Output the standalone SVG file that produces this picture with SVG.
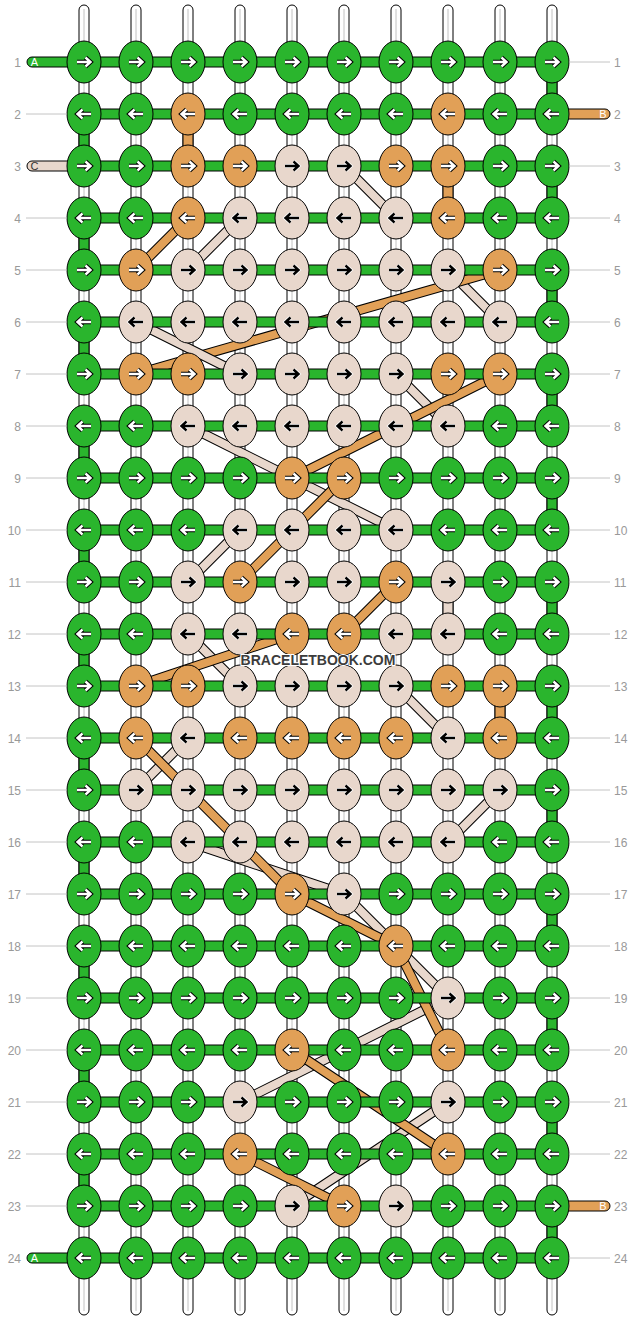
<svg xmlns="http://www.w3.org/2000/svg" xmlns:xlink="http://www.w3.org/1999/xlink" width="636" height="1320" viewBox="0 0 636 1320">
<style>
.vs{fill:#fff;stroke:#000;stroke-width:1}
.vc{stroke:#c2c2c2;stroke-width:1}
.hb{stroke:#000;stroke-width:1}
.g{fill:#2ab52d}.o{fill:#e1a057}.l{fill:#e8d7cc}
.kn{stroke:#000;stroke-width:1}
.dk{stroke:#000;stroke-width:10;fill:none}
.dO{stroke:#e1a057;stroke-width:8;fill:none}
.dL{stroke:#e8d7cc;stroke-width:8;fill:none}
.ap{fill:none;stroke-linecap:butt;stroke-linejoin:miter}
.num{font-family:"Liberation Sans",Arial,sans-serif;font-size:12px;fill:#999}
.gl{stroke:#c4c4c4;stroke-width:1}
.lab{font-family:"Liberation Sans",Arial,sans-serif;font-size:11px;text-anchor:middle}
.wm{font-family:"Liberation Sans",Arial,sans-serif;font-size:14px;font-weight:bold;fill:#3c3c3c;stroke:#fff;stroke-width:2;paint-order:stroke;text-anchor:middle}
</style>
<defs>
<path id="aR" class="ap" d="M-7,0H6M1.5,-4.5L6.5,0L1.5,4.5"/>
<g id="wR"><use href="#aR" stroke="#000" stroke-width="4.4"/><use href="#aR" stroke="#fff" stroke-width="2.4"/></g>
<g id="bR"><use href="#aR" stroke="#fff" stroke-width="4"/><use href="#aR" stroke="#000" stroke-width="2.4"/></g>
<g id="wL" transform="scale(-1,1)"><use href="#wR"/></g>
<g id="bL" transform="scale(-1,1)"><use href="#bR"/></g>
<g id="GR"><ellipse class="kn g" rx="17" ry="21"/><use href="#wR"/></g>
<g id="GL"><ellipse class="kn g" rx="17" ry="21"/><use href="#wL"/></g>
<g id="OR"><ellipse class="kn o" rx="17" ry="21"/><use href="#wR"/></g>
<g id="OL"><ellipse class="kn o" rx="17" ry="21"/><use href="#wL"/></g>
<g id="LR"><ellipse class="kn l" rx="17" ry="21"/><use href="#bR"/></g>
<g id="LL"><ellipse class="kn l" rx="17" ry="21"/><use href="#bL"/></g>
</defs>
<rect width="636" height="1320" fill="#fff"/>

<g id="warp-strings">
<rect class="vs" x="79" y="5" width="10" height="1310" rx="5"/><line class="vc" x1="84" y1="9" x2="84" y2="1311"/>
<rect class="vs" x="131" y="5" width="10" height="1310" rx="5"/><line class="vc" x1="136" y1="9" x2="136" y2="1311"/>
<rect class="vs" x="183" y="5" width="10" height="1310" rx="5"/><line class="vc" x1="188" y1="9" x2="188" y2="1311"/>
<rect class="vs" x="235" y="5" width="10" height="1310" rx="5"/><line class="vc" x1="240" y1="9" x2="240" y2="1311"/>
<rect class="vs" x="287" y="5" width="10" height="1310" rx="5"/><line class="vc" x1="292" y1="9" x2="292" y2="1311"/>
<rect class="vs" x="339" y="5" width="10" height="1310" rx="5"/><line class="vc" x1="344" y1="9" x2="344" y2="1311"/>
<rect class="vs" x="391" y="5" width="10" height="1310" rx="5"/><line class="vc" x1="396" y1="9" x2="396" y2="1311"/>
<rect class="vs" x="443" y="5" width="10" height="1310" rx="5"/><line class="vc" x1="448" y1="9" x2="448" y2="1311"/>
<rect class="vs" x="495" y="5" width="10" height="1310" rx="5"/><line class="vc" x1="500" y1="9" x2="500" y2="1311"/>
<rect class="vs" x="547" y="5" width="10" height="1310" rx="5"/><line class="vc" x1="552" y1="9" x2="552" y2="1311"/>
</g>

<g id="connectors">
<g id="diag-light">
<path class="dk" d="M240,218L188,270M344,166L396,218M448,270L500,322M396,374L448,426M188,426L396,530M240,530L188,582M188,634L240,686M396,686L448,738M188,738L136,790M500,790L448,842M188,842L344,894M344,894L448,998M448,998L240,1102M448,1102L292,1206"/>
<path class="dL" d="M240,218L188,270M344,166L396,218M448,270L500,322M396,374L448,426M188,426L396,530M240,530L188,582M188,634L240,686M396,686L448,738M188,738L136,790M500,790L448,842M188,842L344,894M344,894L448,998M448,998L240,1102M448,1102L292,1206"/>
</g>
<g id="diag-orange">
<path class="dk" d="M188,218L136,270M500,270L136,374M500,374L292,478M344,478L240,582M396,582L344,634M292,634L136,686M136,738L292,894M292,894L396,946M396,946L448,1050M292,1050L448,1154M240,1154L344,1206"/>
<path class="dO" d="M188,218L136,270M500,270L136,374M500,374L292,478M344,478L240,582M396,582L344,634M292,634L136,686M136,738L292,894M292,894L396,946M396,946L448,1050M292,1050L448,1154M240,1154L344,1206"/>
</g>
<g id="diag-light-top">
<path class="dk" d="M136,322L240,374"/>
<path class="dL" d="M136,322L240,374"/>
</g>
<g id="vertical-links">
<rect class="hb g" x="547" y="77" width="10" height="22"/>
<rect class="hb g" x="79" y="129" width="10" height="22"/>
<rect class="hb g" x="547" y="181" width="10" height="22"/>
<rect class="hb g" x="79" y="233" width="10" height="22"/>
<rect class="hb g" x="547" y="285" width="10" height="22"/>
<rect class="hb g" x="79" y="337" width="10" height="22"/>
<rect class="hb g" x="547" y="389" width="10" height="22"/>
<rect class="hb g" x="79" y="441" width="10" height="22"/>
<rect class="hb g" x="547" y="493" width="10" height="22"/>
<rect class="hb g" x="79" y="545" width="10" height="22"/>
<rect class="hb g" x="547" y="597" width="10" height="22"/>
<rect class="hb g" x="79" y="649" width="10" height="22"/>
<rect class="hb g" x="547" y="701" width="10" height="22"/>
<rect class="hb g" x="79" y="753" width="10" height="22"/>
<rect class="hb g" x="547" y="805" width="10" height="22"/>
<rect class="hb g" x="79" y="857" width="10" height="22"/>
<rect class="hb g" x="547" y="909" width="10" height="22"/>
<rect class="hb g" x="79" y="961" width="10" height="22"/>
<rect class="hb g" x="547" y="1013" width="10" height="22"/>
<rect class="hb g" x="79" y="1065" width="10" height="22"/>
<rect class="hb g" x="547" y="1117" width="10" height="22"/>
<rect class="hb g" x="79" y="1169" width="10" height="22"/>
<rect class="hb g" x="547" y="1221" width="10" height="22"/>
<rect class="hb o" x="183" y="129" width="10" height="22"/>
<rect class="hb o" x="443" y="181" width="10" height="22"/>
<rect class="hb l" x="443" y="597" width="10" height="22"/>
<rect class="hb o" x="495" y="701" width="10" height="22"/>
</g>
<g id="horizontal-links">
<rect class="hb g" x="27" y="57" width="60" height="10" rx="5"/>
<rect class="hb o" x="549" y="109" width="61" height="10" rx="5"/>
<rect class="hb l" x="27" y="161" width="60" height="10" rx="5"/>
<rect class="hb o" x="549" y="1201" width="61" height="10" rx="5"/>
<rect class="hb g" x="27" y="1253" width="60" height="10" rx="5"/>
<rect class="hb g" x="84" y="57" width="468" height="10"/>
<rect class="hb g" x="84" y="109" width="468" height="10"/>
<rect class="hb g" x="84" y="161" width="468" height="10"/>
<rect class="hb g" x="84" y="213" width="468" height="10"/>
<rect class="hb g" x="84" y="265" width="468" height="10"/>
<rect class="hb g" x="84" y="317" width="468" height="10"/>
<rect class="hb g" x="84" y="369" width="468" height="10"/>
<rect class="hb g" x="84" y="421" width="468" height="10"/>
<rect class="hb g" x="84" y="473" width="468" height="10"/>
<rect class="hb g" x="84" y="525" width="468" height="10"/>
<rect class="hb g" x="84" y="577" width="468" height="10"/>
<rect class="hb g" x="84" y="629" width="468" height="10"/>
<rect class="hb g" x="84" y="681" width="468" height="10"/>
<rect class="hb g" x="84" y="733" width="468" height="10"/>
<rect class="hb g" x="84" y="785" width="468" height="10"/>
<rect class="hb g" x="84" y="837" width="468" height="10"/>
<rect class="hb g" x="84" y="889" width="468" height="10"/>
<rect class="hb g" x="84" y="941" width="468" height="10"/>
<rect class="hb g" x="84" y="993" width="468" height="10"/>
<rect class="hb g" x="84" y="1045" width="468" height="10"/>
<rect class="hb g" x="84" y="1097" width="468" height="10"/>
<rect class="hb g" x="84" y="1149" width="468" height="10"/>
<rect class="hb g" x="84" y="1201" width="468" height="10"/>
<rect class="hb g" x="84" y="1253" width="468" height="10"/>
</g>
</g>

<g id="knots">
<g id="k1-1"><use href="#GR" x="84" y="62"/></g><g id="k1-2"><use href="#GR" x="136" y="62"/></g><g id="k1-3"><use href="#GR" x="188" y="62"/></g><g id="k1-4"><use href="#GR" x="240" y="62"/></g><g id="k1-5"><use href="#GR" x="292" y="62"/></g><g id="k1-6"><use href="#GR" x="344" y="62"/></g><g id="k1-7"><use href="#GR" x="396" y="62"/></g><g id="k1-8"><use href="#GR" x="448" y="62"/></g><g id="k1-9"><use href="#GR" x="500" y="62"/></g><g id="k1-10"><use href="#GR" x="552" y="62"/></g>
<g id="k2-1"><use href="#GL" x="84" y="114"/></g><g id="k2-2"><use href="#GL" x="136" y="114"/></g><g id="k2-3"><use href="#OL" x="188" y="114"/></g><g id="k2-4"><use href="#GL" x="240" y="114"/></g><g id="k2-5"><use href="#GL" x="292" y="114"/></g><g id="k2-6"><use href="#GL" x="344" y="114"/></g><g id="k2-7"><use href="#GL" x="396" y="114"/></g><g id="k2-8"><use href="#OL" x="448" y="114"/></g><g id="k2-9"><use href="#GL" x="500" y="114"/></g><g id="k2-10"><use href="#GL" x="552" y="114"/></g>
<g id="k3-1"><use href="#GR" x="84" y="166"/></g><g id="k3-2"><use href="#GR" x="136" y="166"/></g><g id="k3-3"><use href="#OR" x="188" y="166"/></g><g id="k3-4"><use href="#OR" x="240" y="166"/></g><g id="k3-5"><use href="#LR" x="292" y="166"/></g><g id="k3-6"><use href="#LR" x="344" y="166"/></g><g id="k3-7"><use href="#OR" x="396" y="166"/></g><g id="k3-8"><use href="#OR" x="448" y="166"/></g><g id="k3-9"><use href="#GR" x="500" y="166"/></g><g id="k3-10"><use href="#GR" x="552" y="166"/></g>
<g id="k4-1"><use href="#GL" x="84" y="218"/></g><g id="k4-2"><use href="#GL" x="136" y="218"/></g><g id="k4-3"><use href="#OL" x="188" y="218"/></g><g id="k4-4"><use href="#LL" x="240" y="218"/></g><g id="k4-5"><use href="#LL" x="292" y="218"/></g><g id="k4-6"><use href="#LL" x="344" y="218"/></g><g id="k4-7"><use href="#LL" x="396" y="218"/></g><g id="k4-8"><use href="#OL" x="448" y="218"/></g><g id="k4-9"><use href="#GL" x="500" y="218"/></g><g id="k4-10"><use href="#GL" x="552" y="218"/></g>
<g id="k5-1"><use href="#GR" x="84" y="270"/></g><g id="k5-2"><use href="#OR" x="136" y="270"/></g><g id="k5-3"><use href="#LR" x="188" y="270"/></g><g id="k5-4"><use href="#LR" x="240" y="270"/></g><g id="k5-5"><use href="#LR" x="292" y="270"/></g><g id="k5-6"><use href="#LR" x="344" y="270"/></g><g id="k5-7"><use href="#LR" x="396" y="270"/></g><g id="k5-8"><use href="#LR" x="448" y="270"/></g><g id="k5-9"><use href="#OR" x="500" y="270"/></g><g id="k5-10"><use href="#GR" x="552" y="270"/></g>
<g id="k6-1"><use href="#GL" x="84" y="322"/></g><g id="k6-2"><use href="#LL" x="136" y="322"/></g><g id="k6-3"><use href="#LL" x="188" y="322"/></g><g id="k6-4"><use href="#LL" x="240" y="322"/></g><g id="k6-5"><use href="#LL" x="292" y="322"/></g><g id="k6-6"><use href="#LL" x="344" y="322"/></g><g id="k6-7"><use href="#LL" x="396" y="322"/></g><g id="k6-8"><use href="#LL" x="448" y="322"/></g><g id="k6-9"><use href="#LL" x="500" y="322"/></g><g id="k6-10"><use href="#GL" x="552" y="322"/></g>
<g id="k7-1"><use href="#GR" x="84" y="374"/></g><g id="k7-2"><use href="#OR" x="136" y="374"/></g><g id="k7-3"><use href="#OR" x="188" y="374"/></g><g id="k7-4"><use href="#LR" x="240" y="374"/></g><g id="k7-5"><use href="#LR" x="292" y="374"/></g><g id="k7-6"><use href="#LR" x="344" y="374"/></g><g id="k7-7"><use href="#LR" x="396" y="374"/></g><g id="k7-8"><use href="#OR" x="448" y="374"/></g><g id="k7-9"><use href="#OR" x="500" y="374"/></g><g id="k7-10"><use href="#GR" x="552" y="374"/></g>
<g id="k8-1"><use href="#GL" x="84" y="426"/></g><g id="k8-2"><use href="#GL" x="136" y="426"/></g><g id="k8-3"><use href="#LL" x="188" y="426"/></g><g id="k8-4"><use href="#LL" x="240" y="426"/></g><g id="k8-5"><use href="#LL" x="292" y="426"/></g><g id="k8-6"><use href="#LL" x="344" y="426"/></g><g id="k8-7"><use href="#LL" x="396" y="426"/></g><g id="k8-8"><use href="#LL" x="448" y="426"/></g><g id="k8-9"><use href="#GL" x="500" y="426"/></g><g id="k8-10"><use href="#GL" x="552" y="426"/></g>
<g id="k9-1"><use href="#GR" x="84" y="478"/></g><g id="k9-2"><use href="#GR" x="136" y="478"/></g><g id="k9-3"><use href="#GR" x="188" y="478"/></g><g id="k9-4"><use href="#GR" x="240" y="478"/></g><g id="k9-5"><use href="#OR" x="292" y="478"/></g><g id="k9-6"><use href="#OR" x="344" y="478"/></g><g id="k9-7"><use href="#GR" x="396" y="478"/></g><g id="k9-8"><use href="#GR" x="448" y="478"/></g><g id="k9-9"><use href="#GR" x="500" y="478"/></g><g id="k9-10"><use href="#GR" x="552" y="478"/></g>
<g id="k10-1"><use href="#GL" x="84" y="530"/></g><g id="k10-2"><use href="#GL" x="136" y="530"/></g><g id="k10-3"><use href="#GL" x="188" y="530"/></g><g id="k10-4"><use href="#LL" x="240" y="530"/></g><g id="k10-5"><use href="#LL" x="292" y="530"/></g><g id="k10-6"><use href="#LL" x="344" y="530"/></g><g id="k10-7"><use href="#LL" x="396" y="530"/></g><g id="k10-8"><use href="#GL" x="448" y="530"/></g><g id="k10-9"><use href="#GL" x="500" y="530"/></g><g id="k10-10"><use href="#GL" x="552" y="530"/></g>
<g id="k11-1"><use href="#GR" x="84" y="582"/></g><g id="k11-2"><use href="#GR" x="136" y="582"/></g><g id="k11-3"><use href="#LR" x="188" y="582"/></g><g id="k11-4"><use href="#OR" x="240" y="582"/></g><g id="k11-5"><use href="#LR" x="292" y="582"/></g><g id="k11-6"><use href="#LR" x="344" y="582"/></g><g id="k11-7"><use href="#OR" x="396" y="582"/></g><g id="k11-8"><use href="#LR" x="448" y="582"/></g><g id="k11-9"><use href="#GR" x="500" y="582"/></g><g id="k11-10"><use href="#GR" x="552" y="582"/></g>
<g id="k12-1"><use href="#GL" x="84" y="634"/></g><g id="k12-2"><use href="#GL" x="136" y="634"/></g><g id="k12-3"><use href="#LL" x="188" y="634"/></g><g id="k12-4"><use href="#LL" x="240" y="634"/></g><g id="k12-5"><use href="#OL" x="292" y="634"/></g><g id="k12-6"><use href="#OL" x="344" y="634"/></g><g id="k12-7"><use href="#LL" x="396" y="634"/></g><g id="k12-8"><use href="#LL" x="448" y="634"/></g><g id="k12-9"><use href="#GL" x="500" y="634"/></g><g id="k12-10"><use href="#GL" x="552" y="634"/></g>
<g id="k13-1"><use href="#GR" x="84" y="686"/></g><g id="k13-2"><use href="#OR" x="136" y="686"/></g><g id="k13-3"><use href="#OR" x="188" y="686"/></g><g id="k13-4"><use href="#LR" x="240" y="686"/></g><g id="k13-5"><use href="#LR" x="292" y="686"/></g><g id="k13-6"><use href="#LR" x="344" y="686"/></g><g id="k13-7"><use href="#LR" x="396" y="686"/></g><g id="k13-8"><use href="#OR" x="448" y="686"/></g><g id="k13-9"><use href="#OR" x="500" y="686"/></g><g id="k13-10"><use href="#GR" x="552" y="686"/></g>
<g id="k14-1"><use href="#GL" x="84" y="738"/></g><g id="k14-2"><use href="#OL" x="136" y="738"/></g><g id="k14-3"><use href="#LL" x="188" y="738"/></g><g id="k14-4"><use href="#OL" x="240" y="738"/></g><g id="k14-5"><use href="#OL" x="292" y="738"/></g><g id="k14-6"><use href="#OL" x="344" y="738"/></g><g id="k14-7"><use href="#OL" x="396" y="738"/></g><g id="k14-8"><use href="#LL" x="448" y="738"/></g><g id="k14-9"><use href="#OL" x="500" y="738"/></g><g id="k14-10"><use href="#GL" x="552" y="738"/></g>
<g id="k15-1"><use href="#GR" x="84" y="790"/></g><g id="k15-2"><use href="#LR" x="136" y="790"/></g><g id="k15-3"><use href="#LR" x="188" y="790"/></g><g id="k15-4"><use href="#LR" x="240" y="790"/></g><g id="k15-5"><use href="#LR" x="292" y="790"/></g><g id="k15-6"><use href="#LR" x="344" y="790"/></g><g id="k15-7"><use href="#LR" x="396" y="790"/></g><g id="k15-8"><use href="#LR" x="448" y="790"/></g><g id="k15-9"><use href="#LR" x="500" y="790"/></g><g id="k15-10"><use href="#GR" x="552" y="790"/></g>
<g id="k16-1"><use href="#GL" x="84" y="842"/></g><g id="k16-2"><use href="#GL" x="136" y="842"/></g><g id="k16-3"><use href="#LL" x="188" y="842"/></g><g id="k16-4"><use href="#LL" x="240" y="842"/></g><g id="k16-5"><use href="#LL" x="292" y="842"/></g><g id="k16-6"><use href="#LL" x="344" y="842"/></g><g id="k16-7"><use href="#LL" x="396" y="842"/></g><g id="k16-8"><use href="#LL" x="448" y="842"/></g><g id="k16-9"><use href="#GL" x="500" y="842"/></g><g id="k16-10"><use href="#GL" x="552" y="842"/></g>
<g id="k17-1"><use href="#GR" x="84" y="894"/></g><g id="k17-2"><use href="#GR" x="136" y="894"/></g><g id="k17-3"><use href="#GR" x="188" y="894"/></g><g id="k17-4"><use href="#GR" x="240" y="894"/></g><g id="k17-5"><use href="#OR" x="292" y="894"/></g><g id="k17-6"><use href="#LR" x="344" y="894"/></g><g id="k17-7"><use href="#GR" x="396" y="894"/></g><g id="k17-8"><use href="#GR" x="448" y="894"/></g><g id="k17-9"><use href="#GR" x="500" y="894"/></g><g id="k17-10"><use href="#GR" x="552" y="894"/></g>
<g id="k18-1"><use href="#GL" x="84" y="946"/></g><g id="k18-2"><use href="#GL" x="136" y="946"/></g><g id="k18-3"><use href="#GL" x="188" y="946"/></g><g id="k18-4"><use href="#GL" x="240" y="946"/></g><g id="k18-5"><use href="#GL" x="292" y="946"/></g><g id="k18-6"><use href="#GL" x="344" y="946"/></g><g id="k18-7"><use href="#OL" x="396" y="946"/></g><g id="k18-8"><use href="#GL" x="448" y="946"/></g><g id="k18-9"><use href="#GL" x="500" y="946"/></g><g id="k18-10"><use href="#GL" x="552" y="946"/></g>
<g id="k19-1"><use href="#GR" x="84" y="998"/></g><g id="k19-2"><use href="#GR" x="136" y="998"/></g><g id="k19-3"><use href="#GR" x="188" y="998"/></g><g id="k19-4"><use href="#GR" x="240" y="998"/></g><g id="k19-5"><use href="#GR" x="292" y="998"/></g><g id="k19-6"><use href="#GR" x="344" y="998"/></g><g id="k19-7"><use href="#GR" x="396" y="998"/></g><g id="k19-8"><use href="#LR" x="448" y="998"/></g><g id="k19-9"><use href="#GR" x="500" y="998"/></g><g id="k19-10"><use href="#GR" x="552" y="998"/></g>
<g id="k20-1"><use href="#GL" x="84" y="1050"/></g><g id="k20-2"><use href="#GL" x="136" y="1050"/></g><g id="k20-3"><use href="#GL" x="188" y="1050"/></g><g id="k20-4"><use href="#GL" x="240" y="1050"/></g><g id="k20-5"><use href="#OL" x="292" y="1050"/></g><g id="k20-6"><use href="#GL" x="344" y="1050"/></g><g id="k20-7"><use href="#GL" x="396" y="1050"/></g><g id="k20-8"><use href="#OL" x="448" y="1050"/></g><g id="k20-9"><use href="#GL" x="500" y="1050"/></g><g id="k20-10"><use href="#GL" x="552" y="1050"/></g>
<g id="k21-1"><use href="#GR" x="84" y="1102"/></g><g id="k21-2"><use href="#GR" x="136" y="1102"/></g><g id="k21-3"><use href="#GR" x="188" y="1102"/></g><g id="k21-4"><use href="#LR" x="240" y="1102"/></g><g id="k21-5"><use href="#GR" x="292" y="1102"/></g><g id="k21-6"><use href="#GR" x="344" y="1102"/></g><g id="k21-7"><use href="#GR" x="396" y="1102"/></g><g id="k21-8"><use href="#LR" x="448" y="1102"/></g><g id="k21-9"><use href="#GR" x="500" y="1102"/></g><g id="k21-10"><use href="#GR" x="552" y="1102"/></g>
<g id="k22-1"><use href="#GL" x="84" y="1154"/></g><g id="k22-2"><use href="#GL" x="136" y="1154"/></g><g id="k22-3"><use href="#GL" x="188" y="1154"/></g><g id="k22-4"><use href="#OL" x="240" y="1154"/></g><g id="k22-5"><use href="#GL" x="292" y="1154"/></g><g id="k22-6"><use href="#GL" x="344" y="1154"/></g><g id="k22-7"><use href="#GL" x="396" y="1154"/></g><g id="k22-8"><use href="#OL" x="448" y="1154"/></g><g id="k22-9"><use href="#GL" x="500" y="1154"/></g><g id="k22-10"><use href="#GL" x="552" y="1154"/></g>
<g id="k23-1"><use href="#GR" x="84" y="1206"/></g><g id="k23-2"><use href="#GR" x="136" y="1206"/></g><g id="k23-3"><use href="#GR" x="188" y="1206"/></g><g id="k23-4"><use href="#GR" x="240" y="1206"/></g><g id="k23-5"><use href="#LR" x="292" y="1206"/></g><g id="k23-6"><use href="#OR" x="344" y="1206"/></g><g id="k23-7"><use href="#LR" x="396" y="1206"/></g><g id="k23-8"><use href="#GR" x="448" y="1206"/></g><g id="k23-9"><use href="#GR" x="500" y="1206"/></g><g id="k23-10"><use href="#GR" x="552" y="1206"/></g>
<g id="k24-1"><use href="#GL" x="84" y="1258"/></g><g id="k24-2"><use href="#GL" x="136" y="1258"/></g><g id="k24-3"><use href="#GL" x="188" y="1258"/></g><g id="k24-4"><use href="#GL" x="240" y="1258"/></g><g id="k24-5"><use href="#GL" x="292" y="1258"/></g><g id="k24-6"><use href="#GL" x="344" y="1258"/></g><g id="k24-7"><use href="#GL" x="396" y="1258"/></g><g id="k24-8"><use href="#GL" x="448" y="1258"/></g><g id="k24-9"><use href="#GL" x="500" y="1258"/></g><g id="k24-10"><use href="#GL" x="552" y="1258"/></g>
</g>

<g id="string-labels">
<text class="lab" x="34.5" y="66" fill="#fff">A</text>
<text class="lab" x="603" y="118" fill="#fff">B</text>
<text class="lab" x="34.5" y="170" fill="#333">C</text>
<text class="lab" x="603" y="1210" fill="#fff">B</text>
<text class="lab" x="34.5" y="1262" fill="#fff">A</text>
</g>

<g id="row-lines">
<path class="gl" d="M569,62H610M26,114H67M569,166H610M26,218H67M569,218H610M26,270H67M569,270H610M26,322H67M569,322H610M26,374H67M569,374H610M26,426H67M569,426H610M26,478H67M569,478H610M26,530H67M569,530H610M26,582H67M569,582H610M26,634H67M569,634H610M26,686H67M569,686H610M26,738H67M569,738H610M26,790H67M569,790H610M26,842H67M569,842H610M26,894H67M569,894H610M26,946H67M569,946H610M26,998H67M569,998H610M26,1050H67M569,1050H610M26,1102H67M569,1102H610M26,1154H67M569,1154H610M26,1206H67M569,1258H610"/>
</g>

<g id="row-numbers" class="num">
<g text-anchor="end">
<text x="21" y="66.5">1</text><text x="21" y="118.5">2</text><text x="21" y="170.5">3</text><text x="21" y="222.5">4</text><text x="21" y="274.5">5</text><text x="21" y="326.5">6</text><text x="21" y="378.5">7</text><text x="21" y="430.5">8</text><text x="21" y="482.5">9</text><text x="21" y="534.5">10</text><text x="21" y="586.5">11</text><text x="21" y="638.5">12</text><text x="21" y="690.5">13</text><text x="21" y="742.5">14</text><text x="21" y="794.5">15</text><text x="21" y="846.5">16</text><text x="21" y="898.5">17</text><text x="21" y="950.5">18</text><text x="21" y="1002.5">19</text><text x="21" y="1054.5">20</text><text x="21" y="1106.5">21</text><text x="21" y="1158.5">22</text><text x="21" y="1210.5">23</text><text x="21" y="1262.5">24</text>
</g>
<g text-anchor="start">
<text x="614" y="66.5">1</text><text x="614" y="118.5">2</text><text x="614" y="170.5">3</text><text x="614" y="222.5">4</text><text x="614" y="274.5">5</text><text x="614" y="326.5">6</text><text x="614" y="378.5">7</text><text x="614" y="430.5">8</text><text x="614" y="482.5">9</text><text x="614" y="534.5">10</text><text x="614" y="586.5">11</text><text x="614" y="638.5">12</text><text x="614" y="690.5">13</text><text x="614" y="742.5">14</text><text x="614" y="794.5">15</text><text x="614" y="846.5">16</text><text x="614" y="898.5">17</text><text x="614" y="950.5">18</text><text x="614" y="1002.5">19</text><text x="614" y="1054.5">20</text><text x="614" y="1106.5">21</text><text x="614" y="1158.5">22</text><text x="614" y="1210.5">23</text><text x="614" y="1262.5">24</text>
</g>
</g>

<text class="wm" x="318" y="665">BRACELETBOOK.COM</text>
</svg>
